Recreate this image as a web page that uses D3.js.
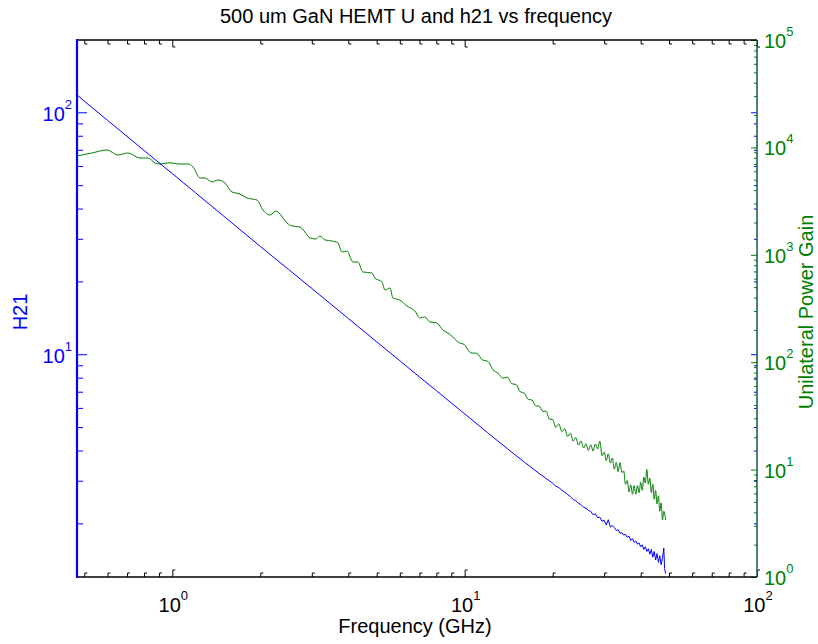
<!DOCTYPE html>
<html>
<head>
<meta charset="utf-8">
<script src="https://cdn.jsdelivr.net/npm/d3@7"></script>
<style>
  body { margin: 0; background: #fff; }
  svg { display: block; font-family: "Liberation Sans", Arial, sans-serif; }
</style>
</head>
<body>
<div id="chart"></div>
<script>
// H21 (current gain)
const h21Freq = [0.472, 0.5, 0.6, 0.7, 0.8, 0.9, 1.0, 1.2, 1.5, 2, 2.5, 3, 4, 5, 6, 7, 8, 9, 10, 12, 14, 16, 18, 20,
  20.5, 21, 21.5, 22, 22.5, 23, 23.5, 24, 24.5, 25, 25.5, 26, 26.5, 27, 27.5, 28, 28.5, 29, 29.5, 30,
  30.5, 31, 31.5, 32, 32.5, 33, 33.5, 34, 34.5, 35, 35.5, 36, 36.5, 37, 37.5, 38, 38.5, 39, 39.5, 40,
  40.5, 41, 41.5, 42, 42.5, 43, 43.5, 44, 44.5, 45, 45.5, 46, 46.5, 47, 47.5, 48, 48.3, 48.7];
const h21 = [118.0, 111.2, 92.7, 79.5, 69.6, 61.9, 55.8, 46.5, 37.2, 27.9, 22.4, 18.7, 14.05, 11.26, 9.40, 8.06, 7.07, 6.29, 5.67, 4.73, 4.07, 3.58, 3.21, 2.93,
  2.85, 2.81, 2.74, 2.69, 2.63, 2.58, 2.51, 2.48, 2.42, 2.39, 2.33, 2.31, 2.26, 2.24, 2.17, 2.19, 2.11, 2.12, 2.04, 2.06,
  1.97, 2.07, 1.93, 1.96, 1.92, 1.87, 1.88, 1.82, 1.83, 1.79, 1.80, 1.75, 1.77, 1.70, 1.73, 1.67, 1.69, 1.64, 1.66, 1.60,
  1.63, 1.56, 1.60, 1.53, 1.57, 1.49, 1.56, 1.45, 1.53, 1.41, 1.50, 1.38, 1.47, 1.35, 1.44, 1.58, 1.30, 1.24];

// unilateral power gain U
const uFreq = [0.472, 0.531, 0.598, 0.652, 0.705, 0.775, 0.826, 0.873, 0.908, 0.982, 1.046, 1.132, 1.177, 1.244, 1.294,
  1.367, 1.433, 1.514, 1.60, 1.704, 1.80, 1.948, 2.042, 2.158, 2.262, 2.334, 2.467, 2.566, 2.733, 2.842, 2.957,
  3.099, 3.198, 3.327, 3.516, 3.686, 3.804, 3.956, 4.148, 4.314, 4.487, 4.816, 4.932, 5.212, 5.337, 5.551, 5.683,
  6.004, 6.344, 6.756, 7.027, 7.309, 7.603, 8.034, 8.423, 8.761, 9.112, 9.478,
  10, 10.5, 11, 11.5, 12, 12.5, 13, 13.5, 14, 14.5, 15, 15.5, 16, 16.5, 17, 17.5, 18, 18.5, 19, 19.5, 20,
  20.5, 21, 21.5, 22, 22.5, 23, 23.5, 24, 24.5, 25, 25.5, 26, 26.5, 27, 27.5, 28, 28.5, 29, 29.5, 30,
  30.5, 31, 31.5, 32, 32.5, 33, 33.5, 34, 34.5, 35, 35.5, 36, 36.5, 37, 37.5, 38, 38.5, 39, 39.5, 40,
  40.5, 41, 41.5, 42, 42.5, 43, 43.5, 44, 44.5, 45, 45.5, 46, 46.5, 47, 47.5, 48, 48.7];
const uGain = [8318, 8872, 9458, 8496, 8872, 7966, 7966, 7157, 7006, 7204, 7006, 7006, 6570, 5190, 5190,
  4763, 4972, 4662, 3844, 3682, 3380, 3237, 2613, 2348, 2557, 2399, 1978, 1855, 1815, 1631, 1434,
  1404, 1496, 1374, 1345, 1288, 1062, 1085, 857, 857, 692, 677, 608, 558, 470, 491, 396,
  379, 334, 300, 258, 264, 237, 232, 199, 187, 172, 154,
  145, 122, 121, 105, 102, 85, 79, 71, 72.5, 63, 62, 53, 51.5, 45, 44.5, 39.2, 39, 34.8, 35, 29.5, 29.3,
  24.8, 26.6, 22.6, 24, 20.3, 21.8, 18.4, 19.9, 16.9, 18.5, 15.9, 17.4, 15.1, 17.0, 14.9, 17.3, 15.6, 18.4, 13.5, 14.6,
  12.1, 14.0, 11.5, 12.8, 10.1, 11.7, 9.6, 11.6, 9.4, 9.7, 7.3, 7.9, 6.2, 7.2, 5.9, 7.1, 5.9, 7.1, 6.1, 7.6,
  6.4, 8.5, 7.5, 10.0, 7.3, 8.3, 6.1, 7.3, 5.3, 6.4, 4.8, 5.7, 4.1, 4.9, 3.4, 4.1, 3.4];

const chartTitle = "500 um GaN HEMT U and h21 vs frequency";
const xTitle = "Frequency (GHz)";
const leftTitle = "H21";
const rightTitle = "Unilateral Power Gain";

const blue = "#0000ff", green = "#008000";
const L = 77, R = 757, T = 40, B = 577;

const svg = d3.select("#chart").append("svg")
  .attr("width", 818).attr("height", 644);

const x = d3.scaleLog().domain([0.472, 100]).range([L, R]);
const yL = d3.scaleLog().domain([1.2, 199]).range([B, T]);
const yR = d3.scaleLog().domain([1, 1e5]).range([B, T]);

const isMajor = v => Math.abs(Math.log10(v) - Math.round(Math.log10(v))) < 1e-9;

svg.append("clipPath").attr("id", "plot")
  .append("rect").attr("x", L).attr("y", T).attr("width", R - L).attr("height", B - T);

// curves
const lineH = d3.line().x((d, i) => x(h21Freq[i])).y(d => yL(d));
const lineU = d3.line().x((d, i) => x(uFreq[i])).y(d => yR(d)).curve(d3.curveMonotoneX);

svg.append("path").datum(uGain)
  .attr("clip-path", "url(#plot)")
  .attr("fill", "none").attr("stroke", green).attr("stroke-width", 1)
  .attr("d", lineU);
svg.append("path").datum(h21)
  .attr("clip-path", "url(#plot)")
  .attr("fill", "none").attr("stroke", blue).attr("stroke-width", 1)
  .attr("d", lineH);

// axes (ticks only, frame drawn after)
function tickAxis(axis, vals, size, tr, color) {
  const g = svg.append("g")
    .attr("transform", tr)
    .call(axis.tickValues(vals).tickSize(size).tickFormat(""));
  g.select(".domain").remove();
  g.selectAll(".tick line").attr("stroke", color).attr("stroke-width", 1);
  return g;
}

const xt = x.ticks();
const xMinor = xt.filter(v => !isMajor(v)), xMajor = xt.filter(isMajor);
const lt = yL.ticks();
const lMinor = lt.filter(v => !isMajor(v)), lMajor = lt.filter(isMajor);
const rt = yR.ticks();
const rMinor = rt.filter(v => !isMajor(v)), rMajor = rt.filter(isMajor);

// bottom / top, with the small flag on each tick
[[d3.axisBottom(x), B, -1], [d3.axisTop(x), T, 1]].forEach(([ax, yPos, dir]) => {
  [[xMinor, 4], [xMajor, 7]].forEach(([vals, len]) => {
    const g = tickAxis(ax, vals, -len, `translate(0,${yPos})`, "#000");
    g.selectAll(".tick").append("line")
      .attr("x1", 0).attr("x2", 2.5)
      .attr("y1", dir * len).attr("y2", dir * len)
      .attr("stroke", "#000").attr("stroke-width", 1);
  });
});

// left axis ticks (blue), mirrored on the right
tickAxis(d3.axisLeft(yL), lMinor, -6, `translate(${L},0)`, blue);
tickAxis(d3.axisLeft(yL), lMajor, -10, `translate(${L},0)`, blue);
tickAxis(d3.axisRight(yL), lMinor, -3, `translate(${R},0)`, blue);
tickAxis(d3.axisRight(yL), lMajor, -6, `translate(${R},0)`, blue);

// right axis ticks (green)
tickAxis(d3.axisRight(yR), rMinor, -3, `translate(${R},0)`, green);
tickAxis(d3.axisRight(yR), rMajor, -6, `translate(${R},0)`, green);

// frame
svg.append("line").attr("x1", L).attr("x2", R).attr("y1", T).attr("y2", T)
  .attr("stroke", "#000").attr("stroke-width", 1.5);
svg.append("line").attr("x1", L).attr("x2", R).attr("y1", B).attr("y2", B)
  .attr("stroke", "#000").attr("stroke-width", 1.5);
svg.append("line").attr("x1", R).attr("x2", R).attr("y1", T).attr("y2", B)
  .attr("stroke", "#10584a").attr("stroke-width", 1.5);
svg.append("line").attr("x1", L).attr("x2", L).attr("y1", T - 1).attr("y2", B + 1)
  .attr("stroke", blue).attr("stroke-width", 2.2);

// tick labels: 10 with superscript exponent
function powLabel(px, py, exp, anchor, color) {
  const t = svg.append("text")
    .attr("x", px).attr("y", py)
    .attr("text-anchor", anchor)
    .attr("fill", color)
    .style("font-size", "20px");
  t.append("tspan").text("10");
  t.append("tspan").attr("dy", -12).style("font-size", "13px").text(exp);
}

xMajor.forEach(v => powLabel(x(v) + 1, 612, Math.round(Math.log10(v)), "middle", "#000"));
lMajor.forEach(v => powLabel(L - 5, yL(v) + 8.5, Math.round(Math.log10(v)), "end", blue));
rMajor.forEach(v => powLabel(R + 7, yR(v) + 8, Math.round(Math.log10(v)), "start", green));

// titles
svg.append("text").attr("x", 416).attr("y", 23).attr("text-anchor", "middle")
  .style("font-size", "20px").attr("fill", "#000").text(chartTitle);
svg.append("text").attr("x", 415).attr("y", 633).attr("text-anchor", "middle")
  .style("font-size", "20px").attr("fill", "#000").text(xTitle);
svg.append("text").attr("transform", "translate(27,312) rotate(-90)").attr("text-anchor", "middle")
  .style("font-size", "20px").attr("fill", blue).text(leftTitle);
svg.append("text").attr("transform", "translate(813,312) rotate(-90)").attr("text-anchor", "middle")
  .style("font-size", "20px").attr("fill", green).text(rightTitle);
</script>
</body>
</html>
